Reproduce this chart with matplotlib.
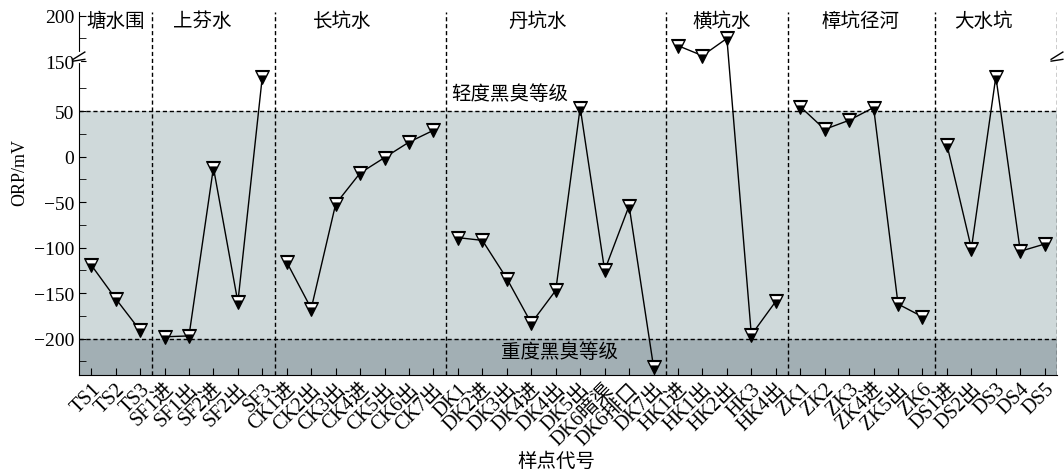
import numpy as np
import matplotlib
matplotlib.use("Agg")
import matplotlib.pyplot as plt
from matplotlib.path import Path
from matplotlib.ticker import FixedLocator, FixedFormatter

plt.rcParams['font.family'] = ['Liberation Serif', 'Noto Sans CJK SC']
plt.rcParams['axes.unicode_minus'] = True

# sampling points and ORP (mV)
sites = ['TS1', 'TS2', 'TS3',
         'SF1进', 'SF1出', 'SF2进', 'SF2出', 'SF3',
         'CK1进', 'CK2出', 'CK3出', 'CK4进', 'CK5出', 'CK6出', 'CK7出',
         'DK1', 'DK2进', 'DK3出', 'DK4进', 'DK4出', 'DK5出', 'DK6暗渠', 'DK6排口', 'DK7出',
         'HK1进', 'HK1出', 'HK2出', 'HK3', 'HK4出',
         'ZK1', 'ZK2', 'ZK3', 'ZK4进', 'ZK5出', 'ZK6',
         'DS1进', 'DS2出', 'DS3', 'DS4', 'DS5']
orp = [-119, -156, -191,
       -198, -197, -12, -160, 88,
       -116, -167, -52, -18, -1, 16, 29,
       -89, -92, -134, -183, -147, 54, -125, -54, -231,
       167, 156, 175, -196, -159,
       55, 30, 40, 54, -162, -176,
       13, -101, 88, -104, -96]
rivers = ['塘水围', '上芬水', '长坑水', '丹坑水', '横坑水', '樟坑径河', '大水坑']
river_sizes = [3, 5, 7, 9, 5, 6, 5]
river_label_x = [1.0, 4.55, 10.25, 18.25, 25.8, 31.45, 36.5]

light_level = 50
heavy_level = -200

# broken y axis: values between 105 and 150 are cut out
CUT_LO, CUT_HI = 105, 150
GAP = CUT_HI - CUT_LO


def fwd(v):
    v = np.asarray(v, dtype=float)
    return np.where(v <= CUT_LO, v, np.maximum(v - GAP, CUT_LO))


def inv(y):
    y = np.asarray(y, dtype=float)
    return np.where(y <= CUT_LO, y, y + GAP)


fig = plt.figure(figsize=(10.64, 4.77), dpi=100)
ax = fig.add_axes([0.0742, 0.2117, 0.9192, 0.761])
ax.set_yscale('function', functions=(fwd, inv))
ax.set_xlim(-0.5, len(sites) - 0.5)
ax.set_ylim(-240, 204)

ax.axhspan(-240, heavy_level, color='#a2afb4', lw=0, zorder=0)
ax.axhspan(heavy_level, light_level, color='#cfd9da', lw=0, zorder=0)
ax.axhline(light_level, color='black', ls=(0, (3, 2)), lw=1, zorder=1)
ax.axhline(heavy_level, color='black', ls=(0, (3, 2)), lw=1, zorder=1)

# white band inside the triangle markers
band = Path([(-0.76, 0.78), (0.76, 0.78), (0.52, 0.30), (-0.52, 0.30), (-0.76, 0.78)],
            [Path.MOVETO, Path.LINETO, Path.LINETO, Path.LINETO, Path.CLOSEPOLY])
ms = 10

x = np.arange(len(sites))
start = 0
for name, n, lx in zip(rivers, river_sizes, river_label_x):
    xs = x[start:start + n]
    ys = orp[start:start + n]
    ax.plot(xs, ys, color='black', lw=1, zorder=3)
    ax.plot(xs, ys, ls='none', marker='v', ms=ms, mfc='black', mec='black',
            mew=0.8, zorder=4)
    ax.plot(xs, ys, ls='none', marker=band, ms=ms * 0.78, mfc='white',
            mew=0, zorder=5)
    end = start + n - 0.5
    ax.axvline(end, color='black', ls=(0, (3, 2)), lw=1, zorder=2)
    ax.text(lx, 0.975, name, transform=ax.get_xaxis_transform(),
            ha='center', va='center', fontsize=14)
    start += n

ax.text(17.1, 69, '轻度黑臭等级', ha='center', va='center', fontsize=14)
ax.text(19.15, -214, '重度黑臭等级', ha='center', va='center', fontsize=14)

ax.set_xticks(x)
ax.set_xticklabels(sites, rotation=45, ha='right', va='top',
                   rotation_mode='anchor', fontsize=14.5)
ax.tick_params(axis='x', direction='in', length=5, pad=3)

yt = [-200, -150, -100, -50, 0, 50, 150, 200]
ax.yaxis.set_major_locator(FixedLocator(yt))
ax.yaxis.set_major_formatter(FixedFormatter([f'{v}'.replace('-', '\u2212') for v in yt]))
ax.yaxis.set_minor_locator(FixedLocator([-225, -175, -125, -75, -25, 25, 75, 175]))
ax.tick_params(axis='y', which='both', direction='in', length=5, labelsize=14)

ax.spines['top'].set_visible(False)
ax.spines['right'].set_visible(False)

ax.set_ylabel('ORP/mV', fontsize=13)
ax.yaxis.set_label_coords(-0.052, 0.56)
ax.set_xlabel('样点代号', fontsize=14)
ax.xaxis.set_label_coords(0.488, -0.21)

# break marks on the left and right edges
bt = ax.get_yaxis_transform()
for xa in (0, 1):
    ax.plot([xa, xa], [CUT_HI - 2, CUT_HI + 8], transform=bt, color='white',
            lw=3, clip_on=False, zorder=6)
    for dy in (0, 8):
        ax.plot([xa - 0.006, xa + 0.006], [CUT_HI - 6 + dy, CUT_HI + 2 + dy], transform=bt,
                color='black', lw=1, clip_on=False, zorder=7)

fig.savefig('out.png', dpi=100)
